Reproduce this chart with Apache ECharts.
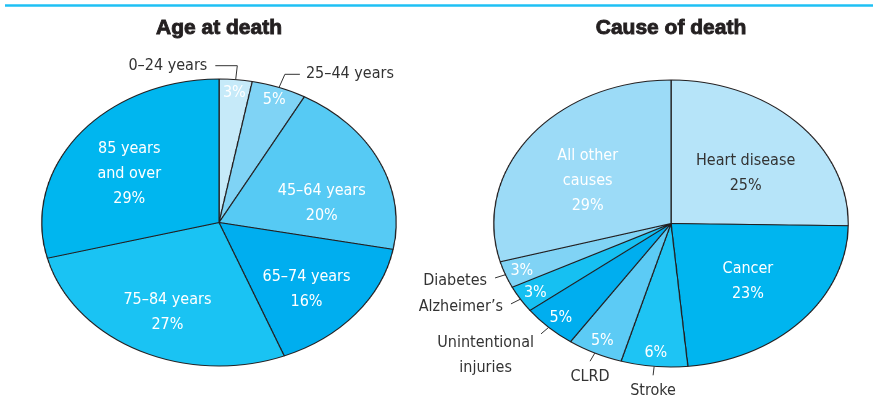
<!DOCTYPE html>
<html>
<head>
<meta charset="utf-8">
<script src="https://cdn.jsdelivr.net/npm/echarts@6/dist/echarts.min.js"></script>
<style>
  html, body { margin: 0; padding: 0; background: #fff; }
  #wrap { position: relative; width: 873px; height: 401px; overflow: hidden; }
  #pies { position: absolute; left: 0; top: 0; height: 401px; transform-origin: 0 0; }
  #labels { position: absolute; left: 0; top: 0; width: 873px; height: 401px; }
</style>
</head>
<body>
<div id="wrap"><div id="pies"></div><div id="labels"></div></div>
<script>
const ageNames = ['0–24 years', '25–44 years', '45–64 years', '65–74 years', '75–84 years', '85 years\nand over'];
const agePercent = [3, 5, 20, 16, 27, 29];
const causeNames = ['Heart disease', 'Cancer', 'Stroke', 'CLRD', 'Unintentional\ninjuries', 'Alzheimer’s', 'Diabetes', 'All other\ncauses'];
const causePercent = [25, 23, 6, 5, 5, 3, 3, 29];
const titles = ['Age at death', 'Cause of death'];

// the pies are elliptical: drawn as circles of radius RY, then stretched sideways by K
const K = 1.235;
const RY = 143.5;
const AGE_C = [219, 222.5];
const CAUSE_C = [671, 223.5];

const ageColors = ['#c6eaf9', '#7fd3f5', '#56caf4', '#00aeef', '#1ac3f3', '#00b6ef'];
const causeColors = ['#b6e4f9', '#00b5ef', '#1ec4f4', '#5ccbf5', '#00aeef', '#16c0f2', '#80d3f5', '#9cdbf7'];
const FONT = '"Liberation Sans Narrow", "DejaVu Sans Condensed", Roboto, sans-serif';
const TITLE_FONT = 'bold 21px "Liberation Sans", Arial, sans-serif';
const DARK = '#333';

// which labels go where
const ageBig = [2, 3, 4, 5];
const ageSmall = [0, 1];
const ageOut = { 0: ['left', 22], 1: ['right', 15] };
const causeBig = [0, 1, 7];
const causeSmall = [2, 3, 4, 5, 6];
const causeOut = { 2: ['below'], 3: ['below'], 4: ['leftDown'], 5: ['left', 0], 6: ['left', 0] };

// ---- stretched pies (no text) ----
const pieEl = document.getElementById('pies');
pieEl.style.width = (873 / K) + 'px';
pieEl.style.transform = 'scaleX(' + K + ')';
const pieChart = echarts.init(pieEl, null, { devicePixelRatio: 2 });

function slices(names, values, colors) {
  return names.map((n, i) => ({ name: n, value: values[i], itemStyle: { color: colors[i] } }));
}

pieChart.setOption({
  animation: false,
  series: [
    { type: 'pie', center: [AGE_C[0] / K, AGE_C[1]], radius: RY, silent: true, label: { show: false },
      itemStyle: { borderColor: '#231f20', borderWidth: 1 }, data: slices(ageNames, agePercent, ageColors) },
    { type: 'pie', center: [CAUSE_C[0] / K, CAUSE_C[1]], radius: RY, silent: true, label: { show: false },
      itemStyle: { borderColor: '#231f20', borderWidth: 1 }, data: slices(causeNames, causePercent, causeColors) }
  ]
});

// ---- text layer: invisible copies of the pies carry the labels ----
// drop: extra downward nudge, {def: all, index: that label}
function insideLayout(cx, drop) {
  return function (p) {
    const r = p.labelRect;
    const d = drop[p.dataIndex] != null ? drop[p.dataIndex] : drop.def;
    return { x: cx + (r.x + r.width / 2 - cx) * K, y: r.y + r.height / 2 + d, align: 'center', verticalAlign: 'middle' };
  };
}

function outsideLayout(cx, modes) {
  return function (p) {
    const pts = p.labelLinePoints;
    const m = modes[p.dataIndex];
    if (!pts || !m) return {};
    const r = p.labelRect;
    const p0 = [cx + (pts[0][0] - cx) * K, pts[0][1]];
    const p1 = [cx + (pts[1][0] - cx) * K, pts[1][1]];
    let p2 = p1, x, y;
    if (m[0] === 'below') {
      x = p1[0]; y = p1[1] + 3 + r.height / 2;
    } else if (m[0] === 'leftDown') {
      x = p1[0] - 7 - r.width / 2; y = p1[1] - 4 + r.height / 2;
    } else if (m[0] === 'left') {
      p2 = [p1[0] - m[1], p1[1]]; x = p2[0] - 8 - r.width / 2; y = p2[1] + (m[1] ? 0 : 3);
    } else {
      p2 = [p1[0] + m[1], p1[1]]; x = p2[0] + 6 + r.width / 2; y = p2[1];
    }
    return { x: x, y: y, align: 'center', verticalAlign: 'middle', labelLinePoints: [p0, p1, p2] };
  };
}

function labelSeries(names, values, center, inner, shown, label, layout, lineLen) {
  return {
    type: 'pie', center: center, radius: [inner * RY, RY], silent: true, avoidLabelOverlap: false,
    itemStyle: { color: 'rgba(0,0,0,0)', borderWidth: 0 },
    label: Object.assign({ fontFamily: FONT, fontSize: 16, lineHeight: 25, color: '#fff',
      textBorderWidth: 0, textShadowBlur: 0 }, label),
    labelLine: { show: !!lineLen, length: lineLen || 0, length2: 10, smooth: false,
      lineStyle: { color: DARK, width: 1 } },
    labelLayout: layout,
    data: names.map((n, i) => ({
      name: n, value: values[i],
      label: { show: shown.includes(i) },
      labelLine: { show: !!lineLen && shown.includes(i) }
    }))
  };
}

const pct = p => p.value + '%';
const namePct = p => p.name + '\n' + p.value + '%';

const textChart = echarts.init(document.getElementById('labels'));
const causeBigSeries = labelSeries(causeNames, causePercent, CAUSE_C, 0.14, causeBig,
  { position: 'inside', formatter: namePct }, insideLayout(CAUSE_C[0], { def: 9, 1: 0 }));
causeBigSeries.data[0].label.color = DARK;

textChart.setOption({
  animation: false,
  graphic: [
    { type: 'line', shape: { x1: 5, y1: 5.5, x2: 873, y2: 5.5 }, style: { stroke: '#1fc0f4', lineWidth: 2.5 } },
    { type: 'text', x: AGE_C[0], y: 28, style: { text: titles[0], fill: '#231f20', stroke: '#231f20', lineWidth: 0.9, font: TITLE_FONT, align: 'center', verticalAlign: 'middle' } },
    { type: 'text', x: CAUSE_C[0], y: 28, style: { text: titles[1], fill: '#231f20', stroke: '#231f20', lineWidth: 0.9, font: TITLE_FONT, align: 'center', verticalAlign: 'middle' } }
  ],
  series: [
    labelSeries(ageNames, agePercent, AGE_C, 0.24, ageBig,
      { position: 'inside', formatter: namePct }, insideLayout(AGE_C[0], { def: 8, 2: 20 })),
    labelSeries(ageNames, agePercent, AGE_C, 0.8, ageSmall,
      { position: 'inside', formatter: pct }, insideLayout(AGE_C[0], { def: 2 })),
    labelSeries(ageNames, agePercent, AGE_C, 0, ageSmall,
      { position: 'outside', color: DARK, formatter: '{b}' }, outsideLayout(AGE_C[0], ageOut), 14),
    causeBigSeries,
    labelSeries(causeNames, causePercent, CAUSE_C, 0.76, causeSmall,
      { position: 'inside', formatter: pct }, insideLayout(CAUSE_C[0], { def: 1 })),
    labelSeries(causeNames, causePercent, CAUSE_C, 0, causeSmall,
      { position: 'outside', color: DARK, formatter: '{b}' }, outsideLayout(CAUSE_C[0], causeOut), 9)
  ]
});
</script>
</body>
</html>
